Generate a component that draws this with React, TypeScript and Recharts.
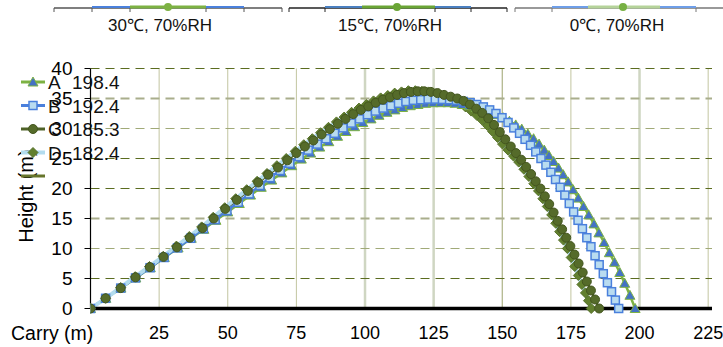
import React from 'react';
import { LineChart, Line, XAxis, YAxis, ReferenceLine } from 'recharts';

// carry (m) / height (m)
const carryA = [0, 5.6, 11.1, 16.5, 21.8, 26.9, 31.9, 36.7, 41.3, 45.7, 50.0, 54.2, 58.3, 62.2, 66.0, 69.7, 73.3, 76.8, 80.2, 83.5, 86.8, 90.0, 93.1, 96.2, 99.2, 102.2, 105.1, 108.0, 110.9, 113.7, 116.5, 119.3, 122.1, 124.8, 127.5, 130.2, 132.8, 135.4, 138.0, 140.5, 143.0, 145.5, 147.9, 150.3, 152.6, 154.9, 157.1, 159.3, 161.4, 163.4, 165.3, 167.0, 168.7, 170.5, 172.2, 174.0, 175.8, 177.7, 179.6, 181.5, 183.4, 185.2, 187.1, 189.0, 190.9, 192.8, 194.6, 196.5, 198.4];
const heightA = [0, 1.7, 3.4, 5.1, 6.8, 8.5, 10.1, 11.7, 13.2, 14.7, 16.1, 17.5, 18.9, 20.2, 21.4, 22.6, 23.8, 24.9, 25.9, 26.9, 27.8, 28.7, 29.5, 30.3, 31.0, 31.6, 32.2, 32.7, 33.1, 33.5, 33.8, 34.0, 34.2, 34.3, 34.3, 34.3, 34.2, 34.0, 33.8, 33.5, 33.1, 32.7, 32.3, 31.8, 31.2, 30.6, 29.9, 29.1, 28.3, 27.4, 26.4, 25.5, 24.5, 23.4, 22.3, 21.1, 19.8, 18.4, 17.0, 15.6, 14.1, 12.6, 11.0, 9.3, 7.7, 6.0, 4.2, 2.2, 0];

const carryB = [0, 5.5, 11.0, 16.4, 21.7, 26.8, 31.7, 36.5, 41.1, 45.4, 49.7, 53.8, 57.8, 61.7, 65.4, 69.1, 72.6, 76.0, 79.3, 82.6, 85.8, 88.9, 92.0, 95.0, 98.0, 100.9, 103.8, 106.6, 109.4, 112.2, 114.9, 117.6, 120.3, 123.0, 125.6, 128.2, 130.8, 133.3, 135.8, 138.3, 140.7, 143.1, 145.4, 147.7, 149.9, 152.1, 154.2, 156.3, 158.3, 160.3, 162.2, 164.1, 165.9, 167.7, 169.4, 171.1, 172.8, 174.4, 176.0, 177.6, 179.2, 180.8, 182.3, 183.8, 185.3, 186.8, 188.3, 189.8, 191.2, 192.4];
const heightB = [0, 1.7, 3.4, 5.1, 6.8, 8.5, 10.1, 11.7, 13.3, 14.8, 16.3, 17.7, 19.1, 20.5, 21.8, 23.0, 24.2, 25.3, 26.4, 27.4, 28.3, 29.2, 30.1, 30.9, 31.6, 32.3, 32.9, 33.4, 33.8, 34.2, 34.5, 34.7, 34.8, 34.9, 34.9, 34.85, 34.8, 34.7, 34.5, 34.3, 34.0, 33.6, 33.1, 32.5, 31.8, 31.0, 30.1, 29.2, 28.2, 27.2, 26.1, 25.0, 23.9, 22.7, 21.5, 20.2, 18.9, 17.5, 16.1, 14.7, 13.3, 11.8, 10.3, 8.8, 7.3, 5.8, 4.3, 2.8, 1.4, 0];

const carryC = [0, 5.5, 11.0, 16.4, 21.6, 26.6, 31.5, 36.2, 40.8, 44.9, 49.1, 53.3, 57.3, 61.1, 64.7, 68.3, 71.7, 75.0, 78.1, 81.2, 84.2, 87.2, 90.1, 92.9, 95.7, 98.5, 101.2, 103.9, 106.5, 109.1, 111.7, 114.2, 116.7, 119.2, 121.6, 124.0, 126.4, 128.8, 131.2, 133.6, 135.9, 138.2, 140.5, 142.7, 144.9, 147.0, 149.1, 151.1, 153.1, 155.0, 156.9, 158.7, 160.5, 162.2, 163.9, 165.5, 167.1, 168.7, 170.2, 171.8, 173.3, 174.8, 176.3, 177.8, 179.3, 180.8, 182.3, 183.8, 185.3];
const heightC = [0, 1.7, 3.4, 5.2, 6.9, 8.6, 10.2, 11.8, 13.4, 15.0, 16.6, 18.1, 19.6, 21.0, 22.3, 23.5, 24.7, 25.9, 27.0, 28.0, 29.0, 29.9, 30.8, 31.6, 32.4, 33.1, 33.7, 34.3, 34.8, 35.2, 35.6, 35.9, 36.1, 36.2, 36.2, 36.1, 35.9, 35.6, 35.3, 35.0, 34.6, 34.0, 33.3, 32.6, 31.7, 30.6, 29.4, 28.2, 27.0, 25.9, 24.8, 23.6, 22.4, 21.2, 20.0, 18.7, 17.4, 16.0, 14.6, 13.2, 11.8, 10.4, 9.0, 7.5, 6.0, 4.5, 3.0, 1.5, 0];

const carryD = [0, 5.5, 11.0, 16.3, 21.5, 26.5, 31.3, 36.0, 40.5, 44.7, 48.9, 52.9, 56.9, 60.7, 64.3, 67.9, 71.3, 74.6, 77.7, 80.8, 83.8, 86.7, 89.6, 92.4, 95.1, 97.8, 100.5, 103.1, 105.7, 108.3, 110.8, 113.3, 115.8, 118.3, 120.7, 123.1, 125.5, 127.8, 130.1, 132.3, 134.5, 136.6, 138.7, 140.7, 142.7, 144.6, 146.5, 148.3, 150.1, 152.1, 154.1, 156.0, 157.9, 159.7, 161.5, 163.2, 164.8, 166.4, 168.0, 169.5, 170.9, 172.3, 173.7, 175.1, 176.4, 177.7, 179.0, 180.3, 181.4, 182.4];
const heightD = [0, 1.7, 3.5, 5.3, 7.0, 8.7, 10.4, 12.0, 13.6, 15.2, 16.8, 18.3, 19.8, 21.2, 22.5, 23.8, 25.0, 26.2, 27.3, 28.3, 29.3, 30.2, 31.1, 31.9, 32.7, 33.4, 34.0, 34.6, 35.1, 35.5, 35.9, 36.1, 36.3, 36.3, 36.2, 36.1, 35.8, 35.5, 35.1, 34.6, 34.1, 33.6, 32.9, 32.2, 31.4, 30.5, 29.5, 28.5, 27.4, 26.4, 25.4, 24.4, 23.2, 22.0, 20.8, 19.6, 18.3, 17.0, 15.6, 14.2, 12.8, 11.4, 10.0, 8.5, 7.0, 5.5, 4.0, 2.6, 1.3, 0];

const seriesNames = ['A', 'B', 'C', 'D'];
const carryLabels = ['198.4', '192.4', '185.3', '182.4'];
const conditions = ['30℃, 70%RH', '15℃, 70%RH', '0℃, 70%RH'];

const xTicks = [0, 25, 50, 75, 100, 125, 150, 175, 200, 225];
const yTicks = [0, 5, 10, 15, 20, 25, 30, 35, 40];

const FONT = '"Liberation Sans", Arial, sans-serif';

const toPoints = (xs: number[], hs: number[]) => xs.map((x, i) => ({ x, h: hs[i] }));
const dataA = toPoints(carryA, heightA);
const dataB = toPoints(carryB, heightB);
const dataC = toPoints(carryC, heightC);
const dataD = toPoints(carryD, heightD);

const GREEN = '#7db243';
const BLUE = '#4a80dc';
const OLIVE = '#4f6228';
const LIGHTBLUE = '#b3dcee';

// gridline looks vary in the original
const hGridColor = (v: number) => {
  if (v === 35 || v === 15) return { stroke: '#a9ae8c', w: 2 };
  if (v === 30 || v === 10) return { stroke: '#a1aa78', w: 1.2 };
  return { stroke: '#5b6c1f', w: 1.2 };
};
const vGridColor = (v: number) => {
  if (v === 100 || v === 125 || v === 200) return { stroke: '#cfd6c2', w: 2.5 };
  if (v === 150) return { stroke: '#adb286', w: 1.2 };
  return { stroke: '#c2c5a0', w: 1 };
};

const triangle = (cx: number, cy: number, key?: any) => (
  <path key={key} d={`M${cx},${cy - 5}L${cx + 5},${cy + 4}L${cx - 5},${cy + 4}Z`} fill="#4472c4" stroke={GREEN} strokeWidth={1} />
);
const square = (cx: number, cy: number, key?: any) => (
  <rect key={key} x={cx - 4} y={cy - 4} width={8} height={8} fill="#b9dcf0" stroke={BLUE} strokeWidth={1.5} />
);
const circle = (cx: number, cy: number, key?: any) => (
  <circle key={key} cx={cx} cy={cy} r={4.5} fill="#556b2a" stroke="#44561f" strokeWidth={1} />
);
const diamond = (cx: number, cy: number, key?: any) => (
  <path key={key} d={`M${cx},${cy - 5}L${cx + 5},${cy}L${cx},${cy + 5}L${cx - 5},${cy}Z`} fill="#62802e" stroke="#56712a" strokeWidth={1} />
);

const dotOf = (shape: (cx: number, cy: number, key?: any) => React.ReactElement) => (props: any) =>
  shape(props.cx, props.cy, `m-${props.index}`);

const legendLines = [GREEN, BLUE, OLIVE, LIGHTBLUE];
const legendMarks = [triangle, square, circle, diamond];
const legendRowY = [82, 105.5, 129, 152.5];

const Overlay = () => (
  <svg width={723} height={347} style={{ position: 'absolute', left: 0, top: 0, pointerEvents: 'none' }}>
    {/* remains of neighbouring charts at the top */}
    <g>
      <line x1={54} y1={8} x2={282} y2={8} stroke="#555" strokeWidth={1.5} />
      {[54, 92, 130, 206, 244, 282].map((x) => <line key={x} x1={x} y1={8} x2={x} y2={12} stroke="#555" strokeWidth={1} />)}
      <line x1={92} y1={7} x2={244} y2={7} stroke={BLUE} strokeWidth={2} />
      <line x1={130} y1={7} x2={206} y2={7} stroke={GREEN} strokeWidth={3} />
      <circle cx={168} cy={7} r={4} fill={GREEN} />
      <line x1={289} y1={8} x2={507} y2={8} stroke="#222" strokeWidth={1.5} />
      {[289, 325, 435, 471, 507].map((x) => <line key={x} x1={x} y1={8} x2={x} y2={12} stroke="#222" strokeWidth={1} />)}
      <line x1={325} y1={7} x2={471} y2={7} stroke="#4a7fc0" strokeWidth={2} />
      <line x1={362} y1={7} x2={435} y2={7} stroke="#6aa535" strokeWidth={3} />
      <circle cx={397} cy={7} r={4} fill="#6aa535" />
      <line x1={515} y1={8} x2={723} y2={8} stroke="#777" strokeWidth={1.5} />
      {[515, 552, 696].map((x) => <line key={x} x1={x} y1={8} x2={x} y2={12} stroke="#777" strokeWidth={1} />)}
      <line x1={552} y1={7} x2={696} y2={7} stroke="#6e9ee8" strokeWidth={2} />
      <line x1={588} y1={7} x2={660} y2={7} stroke="#b5d39a" strokeWidth={3} />
      <circle cx={623} cy={7} r={4} fill="#77b043" />
      {conditions.map((c, i) => (
        <text key={c} x={[160, 390, 617][i]} y={31} textAnchor="middle" fontFamily={FONT} fontSize={17} fill="#111">{c}</text>
      ))}
    </g>
    {/* axis titles */}
    <text x={11} y={340} fontFamily={FONT} fontSize={19.5} fill="#000">Carry (m)</text>
    <text transform="translate(33,196) rotate(-90)" textAnchor="middle" fontFamily={FONT} fontSize={20} fill="#000">Height (m)</text>
    {/* legend */}
    {seriesNames.map((n, i) => (
      <g key={n}>
        <line x1={21} y1={legendRowY[i]} x2={45} y2={legendRowY[i]} stroke={legendLines[i]} strokeWidth={i === 3 ? 4 : 3} />
        {legendMarks[i](33, legendRowY[i])}
        <text x={48} y={legendRowY[i] + 7} fontFamily={FONT} fontSize={19} fill="#111">{n}</text>
        <text x={72} y={legendRowY[i] + 7} fontFamily={FONT} fontSize={19} fill="#111">{carryLabels[i]}</text>
      </g>
    ))}
    <line x1={21} y1={176} x2={45} y2={176} stroke="#66752b" strokeWidth={3} />
  </svg>
);

export default function App() {
  return (
    <div style={{ position: 'absolute', left: 0, top: 0, width: 723, height: 347, background: '#fff' }}>
      <LineChart width={723} height={347} margin={{ top: 68.5, right: 11, bottom: 8.5, left: 30.5 }}>
        {xTicks.slice(1).map((v) => (
          <ReferenceLine key={`vx${v}`} x={v} stroke={vGridColor(v).stroke} strokeWidth={vGridColor(v).w} />
        ))}
        {yTicks.slice(1).map((v) => (
          <ReferenceLine key={`hy${v}`} y={v} stroke={hGridColor(v).stroke} strokeWidth={hGridColor(v).w} strokeDasharray="9 6" />
        ))}
        <XAxis
          type="number"
          dataKey="x"
          domain={[0, 226.4]}
          ticks={xTicks}
          height={30}
          tickSize={0}
          tickMargin={18}
          tickFormatter={(v) => (v === 0 ? '' : String(v))}
          tick={{ fontSize: 18, fill: '#000', fontFamily: FONT }}
          axisLine={{ stroke: '#000', strokeWidth: 3.5 }}
          tickLine={false}
          allowDataOverflow
        />
        <YAxis
          type="number"
          dataKey="h"
          domain={[0, 40]}
          ticks={yTicks}
          width={60}
          tickSize={6}
          tickMargin={12}
          tick={{ fontSize: 19, fill: '#000', fontFamily: FONT }}
          axisLine={{ stroke: '#000', strokeWidth: 1.2 }}
          tickLine={{ stroke: '#000' }}
        />
        {/* curves */}
        <Line data={dataC} dataKey="h" stroke={OLIVE} strokeWidth={2.5} dot={false} activeDot={false} isAnimationActive={false} />
        <Line data={dataA} dataKey="h" stroke={GREEN} strokeWidth={2.5} dot={false} activeDot={false} isAnimationActive={false} />
        <Line data={dataB} dataKey="h" stroke={BLUE} strokeWidth={2.5} dot={false} activeDot={false} isAnimationActive={false} />
        <Line data={dataD} dataKey="h" stroke={LIGHTBLUE} strokeWidth={4} dot={false} activeDot={false} isAnimationActive={false} />
        {/* markers */}
        <Line data={dataD} dataKey="h" stroke="none" dot={dotOf(diamond)} activeDot={false} isAnimationActive={false} />
        <Line data={dataA} dataKey="h" stroke="none" dot={dotOf(triangle)} activeDot={false} isAnimationActive={false} />
        <Line data={dataB} dataKey="h" stroke="none" dot={dotOf(square)} activeDot={false} isAnimationActive={false} />
        <Line data={dataC} dataKey="h" stroke="none" dot={dotOf(circle)} activeDot={false} isAnimationActive={false} />
      </LineChart>
      <Overlay />
    </div>
  );
}
